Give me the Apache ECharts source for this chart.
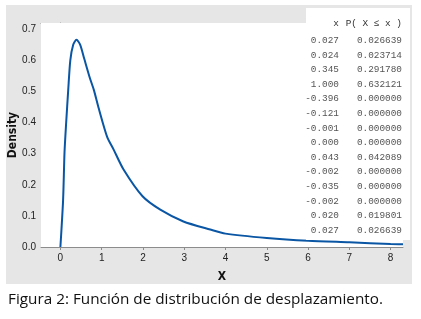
<!DOCTYPE html>
<html><head><meta charset="utf-8">
<script src="https://cdn.jsdelivr.net/npm/echarts@6/dist/echarts.min.js"></script>
<style>html,body{margin:0;padding:0;background:#fff;}#c{width:421px;height:319px;}</style>
</head><body><div id="c"></div>
<script>
const xs = [0, 0.065, 0.10, 0.14, 0.19, 0.24, 0.31, 0.39, 0.48, 0.58, 0.71, 0.81, 0.93, 1.13, 1.29, 1.53, 1.99, 2.42, 2.98, 3.63, 4.0, 5.0, 6.0, 7.0, 8.0, 8.3];
const density = [0, 0.15, 0.305, 0.40, 0.506, 0.60, 0.65, 0.666, 0.65, 0.604, 0.545, 0.505, 0.445, 0.355, 0.313, 0.249, 0.163, 0.12, 0.082, 0.056, 0.043, 0.029, 0.020, 0.015, 0.0097, 0.009];
const xTicks = [0, 1, 2, 3, 4, 5, 6, 7, 8];
const yTicks = [0, 0.1, 0.2, 0.3, 0.4, 0.5, 0.6, 0.7];
const tableX = ['0.027','0.024','0.345','1.000','-0.396','-0.121','-0.001','0.000','0.043','-0.002','-0.035','-0.002','0.020','0.027'];
const tableP = ['0.026639','0.023714','0.291780','0.632121','0.000000','0.000000','0.000000','0.000000','0.042089','0.000000','0.000000','0.000000','0.019801','0.026639'];
const caption = 'Figura 2: Función de distribución de desplazamiento.';

const chart = echarts.init(document.getElementById('c'));
const axisCol = '#8c8c8c';
const labelFont = {fontFamily: 'Liberation Sans', fontSize: 10, color: '#222'};
const tableFont = '9.4px "Liberation Mono"';
const rowTop = 24, rowStep = 14.6;
const tableEls = [];
tableEls.push({type:'text', z:20, style:{x:339, y:rowTop, text:'x', font:tableFont, fill:'#333', align:'right', verticalAlign:'middle'}});
tableEls.push({type:'text', z:20, style:{x:402, y:rowTop, text:'P( X ≤ x )', font:tableFont, fill:'#333', align:'right', verticalAlign:'middle'}});
tableX.forEach((t, i) => {
  const y = rowTop + (i + 1) * rowStep + 2;
  tableEls.push({type:'text', z:20, style:{x:339, y:y, text:t, font:tableFont, fill:'#555', align:'right', verticalAlign:'middle'}});
  tableEls.push({type:'text', z:20, style:{x:402, y:y, text:tableP[i], font:tableFont, fill:'#555', align:'right', verticalAlign:'middle'}});
});

chart.setOption({
  animation: false,
  backgroundColor: '#fff',
  grid: {left: 41, top: 23, width: 362, height: 224, show: true, backgroundColor: '#fff', borderWidth: 0, z: 1, containLabel: false, outerBoundsMode: 'none'},
  xAxis: [{
    type: 'value', min: -0.47, max: 8.3,
    name: 'X', nameLocation: 'middle', nameGap: 24, nameMoveOverlap: false,
    nameTextStyle: {fontFamily: 'DejaVu Sans Condensed', fontWeight: 'bold', fontSize: 12, color: '#111'},
    axisLine: {show: true, lineStyle: {color: axisCol, width: 1}},
    axisTick: {show: true, length: 3, inside: false, customValues: xTicks, lineStyle: {color: axisCol}},
    axisLabel: Object.assign({customValues: xTicks, margin: 6}, labelFont),
    splitLine: {show: false}
  }, {
    type: 'value', position: 'top', min: -0.47, max: 8.3,
    axisLine: {show: true, lineStyle: {color: axisCol, width: 1}},
    axisTick: {show: false}, axisLabel: {show: false}, splitLine: {show: false}
  }],
  yAxis: {
    type: 'value', min: 0, max: 0.72,
    name: 'Density', nameLocation: 'middle', nameGap: 22, nameMoveOverlap: false,
    nameTextStyle: {fontFamily: 'DejaVu Sans Condensed', fontWeight: 'bold', fontSize: 12, color: '#111'},
    axisLine: {show: true, lineStyle: {color: axisCol, width: 1}},
    axisTick: {show: false, customValues: yTicks},
    axisLabel: Object.assign({customValues: yTicks, margin: 5, formatter: v => v.toFixed(1)}, labelFont),
    splitLine: {show: false}
  },
  graphic: [
    {type: 'rect', z: -10, silent: true, shape: {x: 6, y: 5, width: 406, height: 279}, style: {fill: '#e6e6e6'}},
    {type: 'rect', z: 15, silent: true, shape: {x: 306, y: 8, width: 104, height: 232}, style: {fill: '#fff'}},
    {type: 'text', z: 20, style: {x: 8, y: 300, text: caption, font: '15.3px "Open Sans"', fill: '#111', verticalAlign: 'middle'}}
  ].concat(tableEls),
  series: [{
    type: 'line', z: 5,
    data: xs.map((x, i) => [x, density[i]]),
    showSymbol: false, smooth: 0.25,
    lineStyle: {color: '#0a56a4', width: 2},
    clip: true
  }]
});
</script></body></html>
